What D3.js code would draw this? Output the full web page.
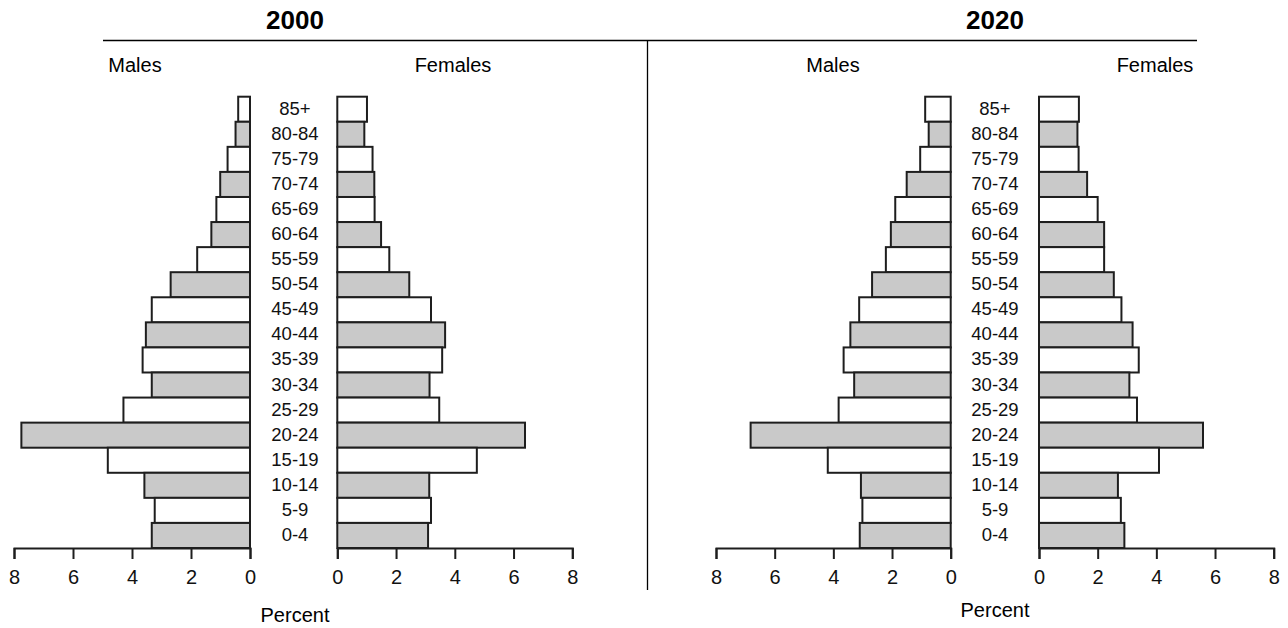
<!DOCTYPE html>
<html>
<head>
<meta charset="utf-8">
<script src="https://cdn.jsdelivr.net/npm/d3@7"></script>
<style>
  html, body { margin: 0; padding: 0; background: #fff; }
  svg { display: block; font-family: "Liberation Sans", Arial, sans-serif; }
</style>
</head>
<body>
<svg id="chart" width="1288" height="628"></svg>
<script>
// ---------- data ----------
const ageGroups = ["85+","80-84","75-79","70-74","65-69","60-64","55-59","50-54","45-49",
                   "40-44","35-39","30-34","25-29","20-24","15-19","10-14","5-9","0-4"];
const males2000   = [0.40,0.49,0.76,1.01,1.14,1.31,1.79,2.69,3.33,3.53,3.64,3.33,4.29,7.75,4.82,3.58,3.23,3.33];
const females2000 = [1.01,0.92,1.20,1.26,1.27,1.49,1.77,2.45,3.19,3.67,3.57,3.14,3.47,6.39,4.75,3.13,3.19,3.09];
const males2020   = [0.87,0.75,1.04,1.50,1.89,2.04,2.21,2.68,3.12,3.42,3.65,3.29,3.82,6.82,4.19,3.06,3.01,3.10];
const females2020 = [1.36,1.31,1.35,1.64,2.00,2.22,2.22,2.55,2.81,3.19,3.40,3.08,3.34,5.59,4.09,2.69,2.79,2.91];
const xTickValues = [0, 2, 4, 6, 8];
const yearTitles  = ["2000", "2020"];
const sexLabels   = ["Males", "Females"];
const axisTitle   = "Percent";

// ---------- layout ----------
const svg = d3.select("#chart");
const panels = [
  { title: yearTitles[0], males: males2000, females: females2000,
    mRange: [14, 250], fRange: [337.3, 572.3], center: 295, titleX: 295,
    malesX: 135, femalesX: 453, percentY: 615 },
  { title: yearTitles[1], males: males2020, females: females2020,
    mRange: [716, 950.7], fRange: [1039, 1273.7], center: 995, titleX: 995,
    malesX: 833, femalesX: 1155, percentY: 610 }
];

const y = d3.scaleBand().domain(ageGroups).range([96.7, 548]).padding(0);
const grayFill = "#c9c9c9";
const stroke = "#1e1e1e";

// frame lines
svg.append("line").attr("x1", 103).attr("x2", 1197).attr("y1", 40.5).attr("y2", 40.5)
  .attr("stroke", "#000").attr("stroke-width", 1.3);
svg.append("line").attr("x1", 647.5).attr("x2", 647.5).attr("y1", 40).attr("y2", 590)
  .attr("stroke", "#000").attr("stroke-width", 1.3);

panels.forEach(p => {
  const g = svg.append("g");
  const xM = d3.scaleLinear().domain([8, 0]).range(p.mRange);
  const xF = d3.scaleLinear().domain([0, 8]).range(p.fRange);

  g.append("text").attr("x", p.titleX).attr("y", 20).attr("dy", "0.35em")
    .attr("text-anchor", "middle").attr("font-size", 26).attr("font-weight", "bold")
    .text(p.title);
  g.append("text").attr("x", p.malesX).attr("y", 65).attr("dy", "0.35em")
    .attr("text-anchor", "middle").attr("font-size", 20).text(sexLabels[0]);
  g.append("text").attr("x", p.femalesX).attr("y", 65).attr("dy", "0.35em")
    .attr("text-anchor", "middle").attr("font-size", 20).text(sexLabels[1]);

  // male bars
  g.selectAll(".mbar").data(ageGroups).join("rect")
    .attr("x", (d, i) => xM(p.males[i]))
    .attr("y", d => y(d))
    .attr("width", (d, i) => xM(0) - xM(p.males[i]))
    .attr("height", y.bandwidth())
    .attr("fill", (d, i) => i % 2 ? grayFill : "#fff")
    .attr("stroke", stroke).attr("stroke-width", 2);
  // female bars
  g.selectAll(".fbar").data(ageGroups).join("rect")
    .attr("x", xF(0))
    .attr("y", d => y(d))
    .attr("width", (d, i) => xF(p.females[i]) - xF(0))
    .attr("height", y.bandwidth())
    .attr("fill", (d, i) => i % 2 ? grayFill : "#fff")
    .attr("stroke", stroke).attr("stroke-width", 2);

  // age labels
  g.selectAll(".age").data(ageGroups).join("text")
    .attr("x", p.center)
    .attr("y", d => y(d) + y.bandwidth() / 2 - 1)
    .attr("dy", "0.35em").attr("text-anchor", "middle").attr("font-size", 18.5)
    .attr("fill", "#111")
    .text(d => d);

  // axes
  const axisY = 548;
  [[xM], [xF]].forEach(([sc]) => {
    const ax = g.append("g").attr("transform", `translate(0,${axisY})`)
      .call(d3.axisBottom(sc).tickValues(xTickValues).tickSize(11).tickSizeOuter(11).tickPadding(11));
    ax.select(".domain").attr("stroke", stroke).attr("stroke-width", 2);
    ax.selectAll(".tick line").attr("stroke", stroke).attr("stroke-width", 2);
    ax.selectAll(".tick text").attr("font-size", 20).attr("fill", "#111")
      .attr("font-family", "Liberation Sans, Arial, sans-serif");
  });

  g.append("text").attr("x", p.center).attr("y", p.percentY).attr("dy", "0.35em")
    .attr("text-anchor", "middle").attr("font-size", 20).text(axisTitle);
});
</script>
</body>
</html>
